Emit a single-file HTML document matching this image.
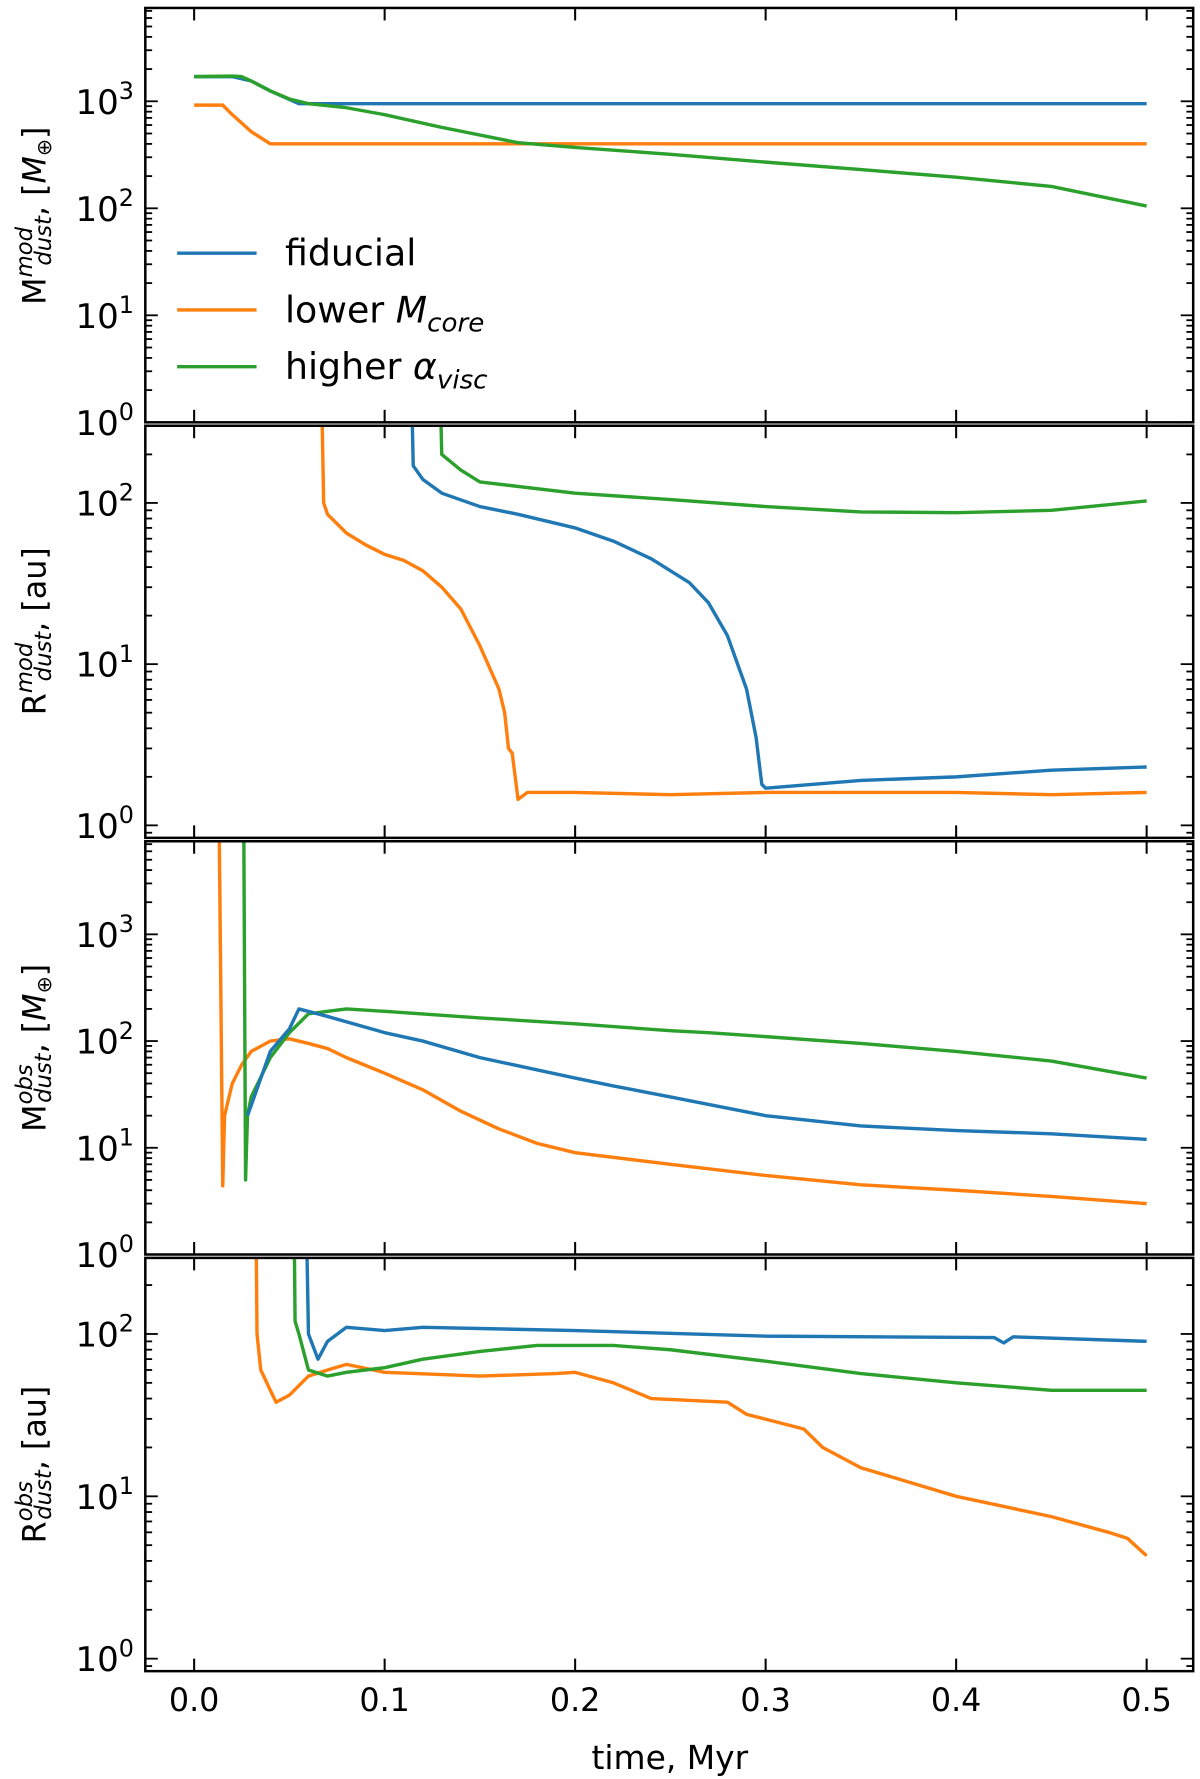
<!DOCTYPE html>
<html><head><meta charset="utf-8"><style>
html,body{margin:0;padding:0;background:#fff}
svg{display:block}
text{font-family:"DejaVu Sans","Liberation Sans",sans-serif;fill:#000}
</style></head><body>
<svg id="fig" width="1200" height="1779" viewBox="0 0 1057 1567" preserveAspectRatio="none" xmlns="http://www.w3.org/2000/svg"></svg>
<script>
// ---- data ----
const p1FidT=[0,0.02,0.03,0.04,0.055,0.5];
const p1FidV=[1700,1700,1550,1250,950,950];
const p1LowT=[0,0.015,0.02,0.03,0.04,0.5];
const p1LowV=[920,920,750,520,400,400];
const p1HigT=[0,0.02,0.025,0.03,0.04,0.05,0.06,0.08,0.1,0.13,0.17,0.2,0.25,0.3,0.35,0.4,0.45,0.5];
const p1HigV=[1700,1720,1700,1550,1250,1050,950,870,750,570,410,370,320,270,230,195,160,105];

const p2LowT=[0.066,0.068,0.07,0.08,0.09,0.1,0.11,0.12,0.13,0.14,0.15,0.16,0.163,0.165,0.167,0.17,0.175,0.2,0.25,0.3,0.35,0.4,0.45,0.5];
const p2LowV=[2000,100,85,65,55,48,44,38,30,22,13,7,5,3.0,2.8,1.45,1.6,1.6,1.55,1.6,1.6,1.6,1.55,1.6];
const p2FidT=[0.113,0.115,0.12,0.13,0.15,0.17,0.2,0.22,0.24,0.26,0.27,0.28,0.29,0.295,0.298,0.3,0.35,0.4,0.45,0.5];
const p2FidV=[2000,170,140,115,95,85,70,58,45,32,24,15,7,3.5,1.8,1.7,1.9,2.0,2.2,2.3];
const p2HigT=[0.128,0.13,0.14,0.15,0.2,0.25,0.3,0.35,0.4,0.45,0.5];
const p2HigV=[2000,200,160,135,115,105,95,88,87,90,103];

const p3LowT=[0.013,0.015,0.016,0.02,0.025,0.03,0.04,0.05,0.06,0.07,0.08,0.1,0.12,0.14,0.16,0.18,0.2,0.25,0.3,0.35,0.4,0.45,0.5];
const p3LowV=[20000,4.4,20,40,60,80,100,105,95,85,70,50,35,22,15,11,9,7,5.5,4.5,4,3.5,3.0];
const p3HigT=[0.026,0.027,0.028,0.03,0.04,0.05,0.06,0.07,0.08,0.1,0.15,0.2,0.25,0.27,0.3,0.35,0.4,0.45,0.5];
const p3HigV=[20000,5,20,30,70,120,180,190,200,190,165,145,125,120,110,95,80,65,45];
const p3FidT=[0.028,0.03,0.04,0.05,0.055,0.07,0.1,0.12,0.15,0.2,0.22,0.25,0.3,0.35,0.4,0.45,0.5];
const p3FidV=[20,25,80,130,200,170,120,100,70,45,38,30,20,16,14.5,13.5,12];

const p4LowT=[0.032,0.033,0.035,0.04,0.043,0.05,0.06,0.07,0.08,0.1,0.15,0.19,0.2,0.22,0.24,0.28,0.29,0.32,0.33,0.35,0.4,0.45,0.48,0.49,0.5];
const p4LowV=[2000,100,60,45,38,42,55,60,65,58,55,57,58,50,40,38,32,26,20,15,10,7.5,6,5.5,4.3];
const p4HigT=[0.052,0.053,0.055,0.06,0.07,0.08,0.1,0.12,0.15,0.18,0.22,0.25,0.3,0.35,0.4,0.45,0.5];
const p4HigV=[2000,120,100,60,55,58,62,70,78,85,85,80,68,57,50,45,45];
const p4FidT=[0.058,0.06,0.065,0.07,0.08,0.1,0.12,0.2,0.3,0.42,0.425,0.43,0.5];
const p4FidV=[2000,100,70,90,110,105,110,105,97,95,88,96,90];

const xTicks=[0,0.1,0.2,0.3,0.4,0.5];
const xTickLabels=["0.0","0.1","0.2","0.3","0.4","0.5"];

// ---- layout ----
const NS="http://www.w3.org/2000/svg";
const svg=document.getElementById('fig');
const L=128,R=1051,X0=171,X1=1010;
const xs=t=>X0+(X1-X0)*t/0.5;
const C={fid:"#1f77b4",low:"#ff7f0e",hig:"#2ca02c"};
function mk(tag,attrs,parent){const e=document.createElementNS(NS,tag);for(const k in attrs)e.setAttribute(k,attrs[k]);(parent||svg).appendChild(e);return e;}
const defs=mk('defs',{});

const panels=[
 {top:7,bot:372,lmin:0,lmax:(371-7)/94,majors:[0,1,2,3],label:["M","mod","dust",", [",'M','⊕',"]"],cy:190,name:"mod-mass",
  series:[[p1LowT,p1LowV,'low'],[p1FidT,p1FidV,'fid'],[p1HigT,p1HigV,'hig']]},
 {top:375,bot:738,lmin:-(738-727)/142,lmax:(727-375)/142,majors:[0,1,2],label:["R","mod","dust",", [au]"],cy:556,name:"mod-radius",
  series:[[p2LowT,p2LowV,'low'],[p2FidT,p2FidV,'fid'],[p2HigT,p2HigV,'hig']]},
 {top:741,bot:1105,lmin:0,lmax:(1105-741)/94,majors:[0,1,2,3],label:["M","obs","dust",", [",'M','⊕',"]"],cy:923,name:"obs-mass",
  series:[[p3LowT,p3LowV,'low'],[p3HigT,p3HigV,'hig'],[p3FidT,p3FidV,'fid']]},
 {top:1108,bot:1472,lmin:-(1472-1461)/143,lmax:(1461-1108)/143,majors:[0,1,2],label:["R","obs","dust",", [au]"],cy:1290,name:"obs-radius",
  series:[[p4LowT,p4LowV,'low'],[p4HigT,p4HigV,'hig'],[p4FidT,p4FidV,'fid']]}
];

panels.forEach((p,i)=>{
 const g=mk('g',{});
 
 
 const ys=v=>p.bot-(Math.log10(v)-p.lmin)/(p.lmax-p.lmin)*(p.bot-p.top);
 const cp=mk('clipPath',{id:'c'+i},defs);mk('rect',{x:L,y:p.top,width:R-L,height:p.bot-p.top},cp);
 const sg=mk('g',{'clip-path':'url(#c'+i+')'},g);
 p.series.forEach(s=>{
  const d=s[0].map((t,j)=>(j?'L':'M')+xs(t).toFixed(1)+','+ys(s[1][j]).toFixed(1)).join('');
  const path=mk('path',{d:d,fill:'none',stroke:C[s[2]],'stroke-width':3,'stroke-linejoin':'round'},sg);
  
  
 });
 const fr=mk('rect',{x:L,y:p.top,width:R-L,height:p.bot-p.top,fill:'none',stroke:'#000','stroke-width':2.2},g);
 
 
 xTicks.forEach((t,j)=>{
  const x=xs(t);
  mk('line',{x1:x,x2:x,y1:p.bot,y2:p.bot-11,stroke:'#000','stroke-width':1.8},g);
  mk('line',{x1:x,x2:x,y1:p.top,y2:p.top+11,stroke:'#000','stroke-width':1.8},g);
  if(i===3){const tx=mk('text',{x:x,y:1507,'font-size':28,'text-anchor':'middle'},g);tx.textContent=xTickLabels[j];
   }
 });
 for(let e=Math.floor(p.lmin);e<=Math.ceil(p.lmax);e++){
  for(let m=1;m<10;m++){
   const lv=e+Math.log10(m);if(lv<p.lmin-1e-6||lv>p.lmax+1e-6)continue;
   const y=ys(Math.pow(10,lv));const len=m===1?11:6;
   mk('line',{x1:L,x2:L+len,y1:y,y2:y,stroke:'#000','stroke-width':1.6},g);
   mk('line',{x1:R,x2:R-len,y1:y,y2:y,stroke:'#000','stroke-width':1.6},g);
  }
 }
 p.majors.forEach(e=>{
  const y=ys(Math.pow(10,e));
  const tx=mk('text',{x:118,y:y+11,'font-size':30,'text-anchor':'end'},g);
  
  const a=mk('tspan',{},tx);a.textContent='10';
  const b=mk('tspan',{'font-size':21,dy:-13},tx);b.textContent=String(e);
 });
 const yl=mk('text',{transform:`translate(40,${p.cy}) rotate(-90)`,'font-size':28,'text-anchor':'middle'},g);
 
 const lb=p.label;
 let t=mk('tspan',{},yl);t.textContent=lb[0];
 t=mk('tspan',{'font-size':20,dy:-12,'font-style':'italic'},yl);t.textContent=lb[1];
 t=mk('tspan',{'font-size':20,dy:17,dx:-34,'font-style':'italic'},yl);t.textContent=lb[2];
 t=mk('tspan',{dy:-5},yl);t.textContent=lb[3];
 if(lb.length>4){t=mk('tspan',{'font-style':'italic'},yl);t.textContent=lb[4];
  t=mk('tspan',{'font-size':18,dy:5},yl);t.textContent=lb[5];
  t=mk('tspan',{dy:-5},yl);t.textContent=lb[6];}
});
const xl=mk('text',{x:590,y:1558,'font-size':29,'text-anchor':'middle'});
xl.textContent='time, Myr';


const leg=[['fid','fiducial',''],['low','lower ','M','core'],['hig','higher ','α','visc']];
const lg=mk('g',{});


leg.forEach((e,j)=>{
 const y=223+j*50;
 mk('line',{x1:156,x2:226,y1:y,y2:y,stroke:C[e[0]],'stroke-width':3},lg);
 const tx=mk('text',{x:251,y:y+11,'font-size':32},lg);
 
 
 let s=mk('tspan',{},tx);s.textContent=e[1];
 if(e[2]){s=mk('tspan',{'font-style':'italic'},tx);s.textContent=e[2];
  s=mk('tspan',{'font-size':23,dy:8,'font-style':'italic'},tx);s.textContent=e[3];}
});
</script>
</body></html>
